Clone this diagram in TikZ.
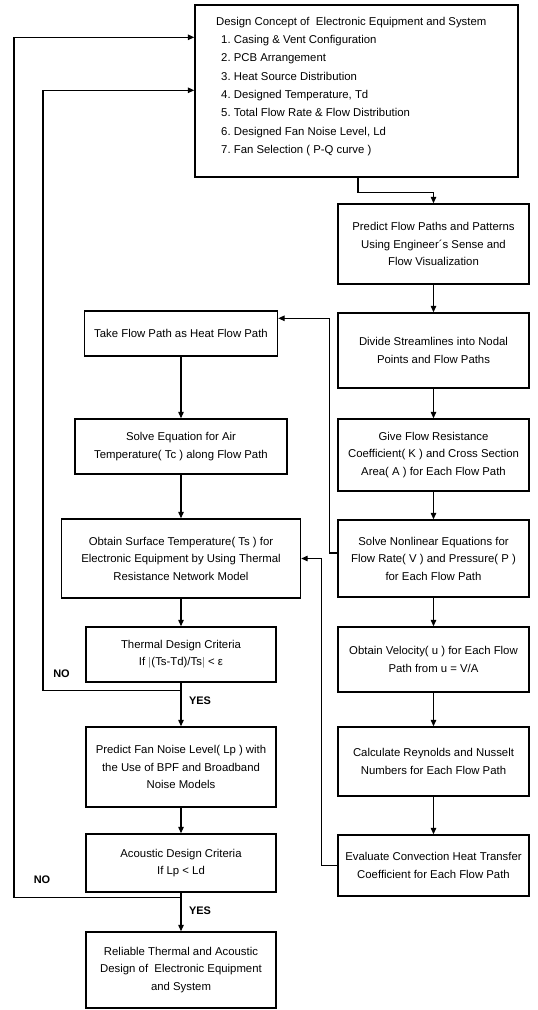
\documentclass[tikz,border=0pt]{standalone}
\usepackage{fontspec}
\setmainfont{Liberation Sans}
\usetikzlibrary{arrows.meta,calc}
\frenchspacing
\begin{document}
\begin{tikzpicture}[x=1bp,y=-1bp,
  blk/.style={draw, line width=1.4bp, align=center, inner sep=1bp, font=\fontsize{11.4}{17.5}\selectfont},
  arr/.style={line width=1.2bp, -{Triangle[length=6.5bp,width=5.5bp]}},
  lbl/.style={font=\bfseries\fontsize{11}{13}\selectfont, inner sep=0pt}]
\useasboundingbox (0,0) rectangle (538,1010);

% top box
\node[blk, minimum width=323bp, minimum height=172bp] (top) at (356.5,91) {};
\node[anchor=north west, align=left, inner sep=0pt, font=\fontsize{11.4}{18.4}\selectfont] (toptext) at (216,16.8)
 {Design Concept of~ Electronic Equipment and System\\
  \hspace*{5bp}1. Casing \& Vent Configuration\\
  \hspace*{5bp}2. PCB Arrangement\\
  \hspace*{5bp}3. Heat Source Distribution\\
  \hspace*{5bp}4. Designed Temperature, Td\\
  \hspace*{5bp}5. Total Flow Rate \& Flow Distribution\\
  \hspace*{5bp}6. Designed Fan Noise Level, Ld\\
  \hspace*{5bp}7. Fan Selection ( P-Q curve )};

% right column
\node[blk, minimum width=191bp, minimum height=80bp] (predict) at (433.5,244) {Predict Flow Paths and Patterns\\Using Engineer´s Sense and\\Flow Visualization};
\node[blk, minimum width=191bp, minimum height=75bp] (divide) at (433.5,350.5) {Divide Streamlines into Nodal\\Points and Flow Paths};
\node[blk, minimum width=191bp, minimum height=72bp] (give) at (433.5,455) {Give Flow Resistance\\Coefficient( K ) and Cross Section\\Area( A ) for Each Flow Path};
\node[blk, minimum width=191bp, minimum height=77bp] (nonlin) at (433.5,558.5) {Solve Nonlinear Equations for\\Flow Rate( V ) and Pressure( P )\\for Each Flow Path};
\node[blk, minimum width=191bp, minimum height=65bp] (velo) at (433.5,659.5) {Obtain Velocity( u ) for Each Flow\\Path from u = V/A};
\node[blk, minimum width=191bp, minimum height=69bp] (calc) at (433.5,761.5) {Calculate Reynolds and Nusselt\\Numbers for Each Flow Path};
\node[blk, minimum width=191bp, minimum height=61bp] (eval) at (433.5,865.5) {Evaluate Convection Heat Transfer\\Coefficient for Each Flow Path};

% left column
\node[blk, minimum width=193bp, minimum height=45bp] (take) at (181,333.5) {Take Flow Path as Heat Flow Path};
\node[blk, minimum width=212bp, minimum height=55bp] (solveq) at (181,446.5) {Solve Equation for Air\\Temperature( Tc ) along Flow Path};
\node[blk, minimum width=239bp, minimum height=79bp] (obtain) at (181,558.5) {Obtain Surface Temperature( Ts ) for\\Electronic Equipment by Using Thermal\\Resistance Network Model};
\node[blk, minimum width=190bp, minimum height=55bp] (thermal) at (181,654.5) {Thermal Design Criteria\\If $\bigl|$(Ts-Td)/Ts$\bigr|$ < ε};
\node[blk, minimum width=190bp, minimum height=80bp] (fan) at (181,767) {Predict Fan Noise Level( Lp ) with\\the Use of BPF and Broadband\\Noise Models};
\node[blk, minimum width=190bp, minimum height=58bp] (acoustic) at (181,863) {Acoustic Design Criteria\\If Lp < Ld};
\node[blk, minimum width=190bp, minimum height=76bp] (reliable) at (181,970) {Reliable Thermal and Acoustic\\Design of~ Electronic Equipment\\and System};

% right column connectors
\draw[arr] ($(top.south)+(1.5,0)$) -- ++(0,15) -| (predict.north);
\draw[arr] (predict.south) -- (divide.north);
\draw[arr] (divide.south) -- (give.north);
\draw[arr] (give.south) -- (nonlin.north);
\draw[arr] (nonlin.south) -- (velo.north);
\draw[arr] (velo.south) -- (calc.north);
\draw[arr] (calc.south) -- (eval.north);

% cross connectors
\draw[arr] ($(nonlin.west)+(0,-5.5)$) -- ++(-8,0) |- ($(take.north east)+(0,8)$);
\draw[arr] (eval.west) -- ++(-16,0) |- (obtain.east);

% left column connectors
\draw[arr] (take.south) -- (solveq.north);
\draw[arr] (solveq.south) -- (obtain.north);
\draw[arr] (obtain.south) -- (thermal.north);
\draw[arr] (thermal.south) -- (fan.north);
\draw[arr] (fan.south) -- (acoustic.north);
\draw[arr] (acoustic.south) -- (reliable.north);

% NO loops
\coordinate (brA) at ($(thermal.south)+(0,8)$);
\coordinate (brB) at ($(acoustic.south)+(0,5)$);
\draw[arr] (brA) -- ++(-138,0) |- ($(top.north west)+(0,86)$);
\draw[arr] (brB) -- ++(-167,0) |- ($(top.north west)+(0,33)$);

% labels
\node[lbl] (no1) at (61.5,674) {NO};
\node[lbl] (no2) at (42,880) {NO};
\node[lbl] (yes1) at (200,701) {YES};
\node[lbl] (yes2) at (200,911) {YES};
\end{tikzpicture}
\end{document}
